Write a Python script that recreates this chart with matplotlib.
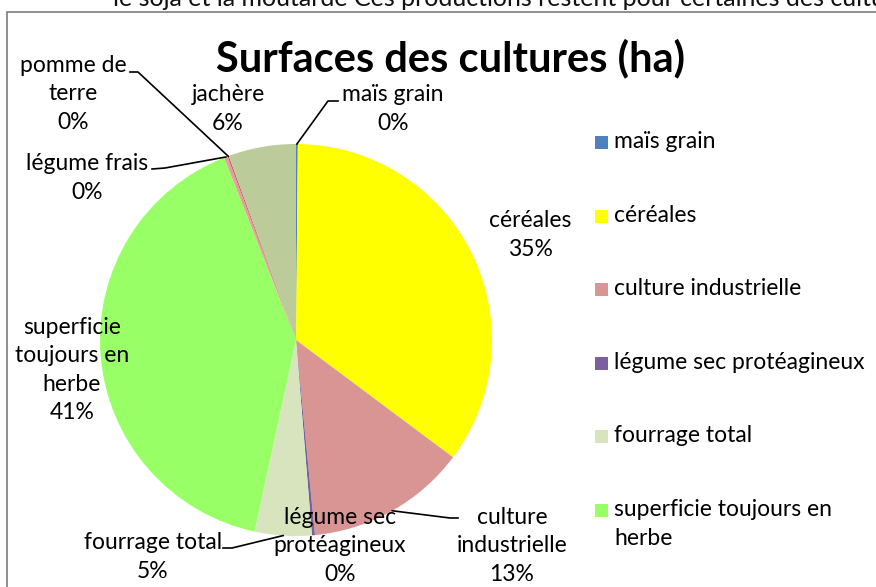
import matplotlib.pyplot as plt
from matplotlib.patches import Rectangle
import numpy as np

plt.rcParams['font.family'] = ['Lato', 'DejaVu Sans']

# Données : surfaces des cultures (part en %)
cultures = ['maïs grain', 'céréales', 'culture industrielle',
            'légume sec protéagineux', 'fourrage total',
            'superficie toujours en herbe', 'légume frais',
            'pomme de terre', 'jachère']
surfaces = [0.15, 35.2, 13.3, 0.25, 4.7, 40.8, 0.3, 0.1, 5.6]
couleurs = ['#4F81BD', '#FFFF00', '#D99594', '#7B5F9E', '#D7E4BD',
            '#99FF66', '#E6A0A0', '#C0504D', '#BCCB9A']
# texte des étiquettes (retours à la ligne comme dans Excel)
etiquettes = ['maïs grain', 'céréales', 'culture\nindustrielle',
              'légume sec\nprotéagineux', 'fourrage total',
              'superficie\ntoujours en\nherbe', 'légume frais',
              'pomme de\nterre', 'jachère']
legende = ['maïs grain', 'céréales', 'culture industrielle',
           'légume sec protéagineux', 'fourrage total',
           'superficie toujours en\nherbe']

W, H = 876, 587
fig = plt.figure(figsize=(W / 100, H / 100), dpi=100)
ax = fig.add_axes([0, 0, 1, 1])


def P(x, y):
    # coordonnées "pixel" (origine en haut à gauche)
    return x, H - y


cx, cy = P(296, 340)
R = 196
wedges, _ = ax.pie(surfaces, colors=couleurs, startangle=90, counterclock=False,
                   center=(cx, cy), radius=R, frame=True,
                   wedgeprops=dict(linewidth=0))
ax.set_xlim(0, W)
ax.set_ylim(0, H)
ax.set_aspect('auto')
ax.axis('off')

# cadre du graphique
ax.add_patch(Rectangle(P(7, 700), 1000, 688, fill=False, ec='#868686', lw=1.3))

# texte du document coupé en haut
ax.text(*P(113, 5.5), 'le soja et la moutarde Ces productions restent pour certaines des cultures',
        fontsize=18, ha='left', va='baseline', color='#111111')

ax.text(*P(450, 58), 'Surfaces des cultures (ha)', fontsize=30, fontweight='bold',
        ha='center', va='center')

total = sum(surfaces)
# position du centre des étiquettes, et coude du trait de rappel (None = pas de trait)
pos_lab = [(393, 109), (530, 235), (512, 546), (340, 546), (153, 557),
           (72, 370), (87, 178), (73, 94), (228, 109)]
coudes = [[(338, 101), (328, 101)], None, [(458, 518), (450, 518)], None,
          [(223, 548), (232, 548)], None, [(152, 169), (165, 168)],
          [(130, 72), (138, 72)], None]

for w, lab, val, pos, cd in zip(wedges, etiquettes, surfaces, pos_lab, coudes):
    pct = round(val / total * 100)
    ax.text(*P(*pos), f'{lab}\n{pct}%', fontsize=16.5, ha='center', va='center',
            linespacing=1.45)
    if cd is not None:
        th = np.deg2rad((w.theta1 + w.theta2) / 2)
        px, py = cx + R * np.cos(th), cy + R * np.sin(th)
        xs = [P(*cd[0])[0], P(*cd[1])[0], px]
        ys = [P(*cd[0])[1], P(*cd[1])[1], py]
        ax.plot(xs, ys, color='black', lw=1.2)

# légende (six premières entrées seulement, comme dans l'original)
for i, (nom, c) in enumerate(zip(legende, couleurs)):
    y = 142 + i * 73.6
    ax.add_patch(Rectangle(P(595, y + 7), 13, 13, color=c, lw=0))
    ax.text(*P(614, y - 11), nom, fontsize=16.5, ha='left', va='top', linespacing=1.45)

fig.savefig('out.png', dpi=100)
